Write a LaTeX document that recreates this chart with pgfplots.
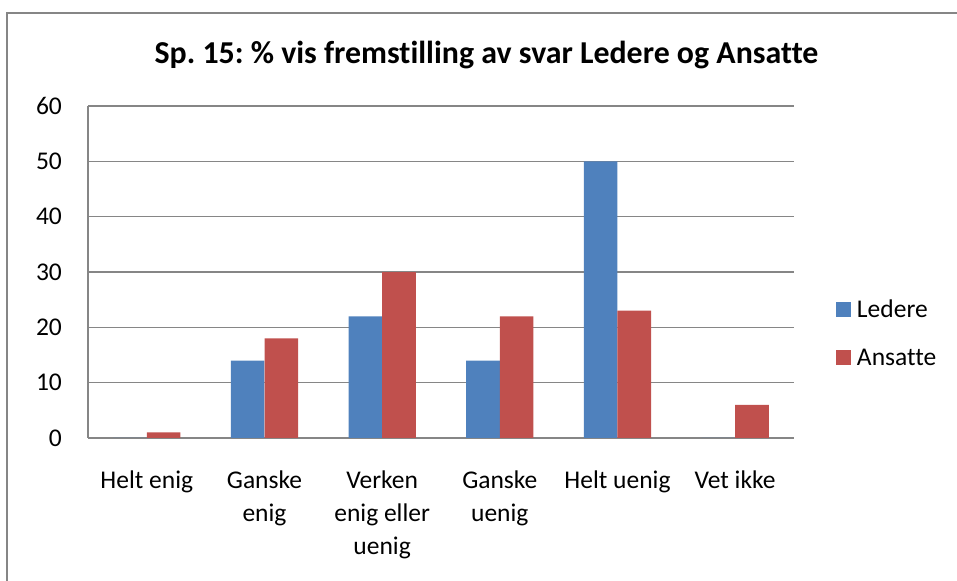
\documentclass[border=0pt]{standalone}
\usepackage{pgfplots}
\pgfplotsset{compat=1.18}
\usepackage{fontspec}
\setmainfont{Carlito}[Ligatures={NoCommon}]
\frenchspacing
\definecolor{ledere}{HTML}{4F81BD}
\definecolor{ansatte}{HTML}{C0504D}
\definecolor{axgray}{HTML}{868686}
\begin{document}
\begin{tikzpicture}
\useasboundingbox (0,0) rectangle (478.5bp,290.5bp);
\draw[axgray, line width=1bp] (3.5bp,0) -- (3.5bp,284bp) -- (478.5bp,284bp);
\begin{axis}[
  at={(44bp,71.5bp)}, anchor=south west,
  scale only axis, width=353bp, height=166bp,
  xmin=-0.5, xmax=5.5, ymin=0, ymax=60,
  ybar, bar width=0.2857,
  xtick={0,...,5},
  xticklabels={Helt enig, Ganske\\enig, Verken\\enig eller\\uenig, Ganske\\uenig, Helt uenig, Vet ikke},
  ytick={0,10,...,60},
  major tick length=0pt,
  axis x line*=bottom, axis y line*=left,
  x axis line style={-}, y axis line style={-},
  axis line style={axgray, line width=0.75bp},
  ymajorgrids, grid style={axgray, line width=0.75bp},
  /pgf/number format/assume math mode=true,
  yticklabel style={anchor=east, inner sep=0pt, xshift=-12.85bp, font=\fontsize{12.8}{16.25}\selectfont},
  xticklabel style={anchor=north, inner sep=0pt, yshift=-16bp, align=center, font=\fontsize{12.8}{16.6}\selectfont},
  title={Sp. 15: \% vis fremstilling av svar Ledere og Ansatte},
  title style={at={(0.5,1)}, anchor=base, xshift=22.75bp, yshift=15.25bp, inner sep=0pt, font=\fontsize{16}{19}\selectfont\bfseries},
  legend style={at={(1,0.308)}, anchor=west, xshift=21bp, draw=none, fill=none, inner sep=0pt, outer sep=0pt, row sep=12bp,
    nodes={inner sep=0pt, text height=9bp, text depth=3bp, anchor=base west},
    /tikz/every odd column/.append style={column sep=3bp},
    font=\fontsize{12.8}{16.25}\selectfont},
  legend image code/.code={\fill[#1] (0bp,0.37bp) rectangle (7.5bp,7.87bp);},
]
\addplot[fill=ledere, draw=none, bar shift=-0.142857] coordinates {(0,0) (1,14) (2,22) (3,14) (4,50) (5,0)};
\addplot[fill=ansatte, draw=none, bar shift=0.142857] coordinates {(0,1) (1,18) (2,30) (3,22) (4,23) (5,6)};
\legend{Ledere, Ansatte}
\end{axis}
\end{tikzpicture}
\end{document}
